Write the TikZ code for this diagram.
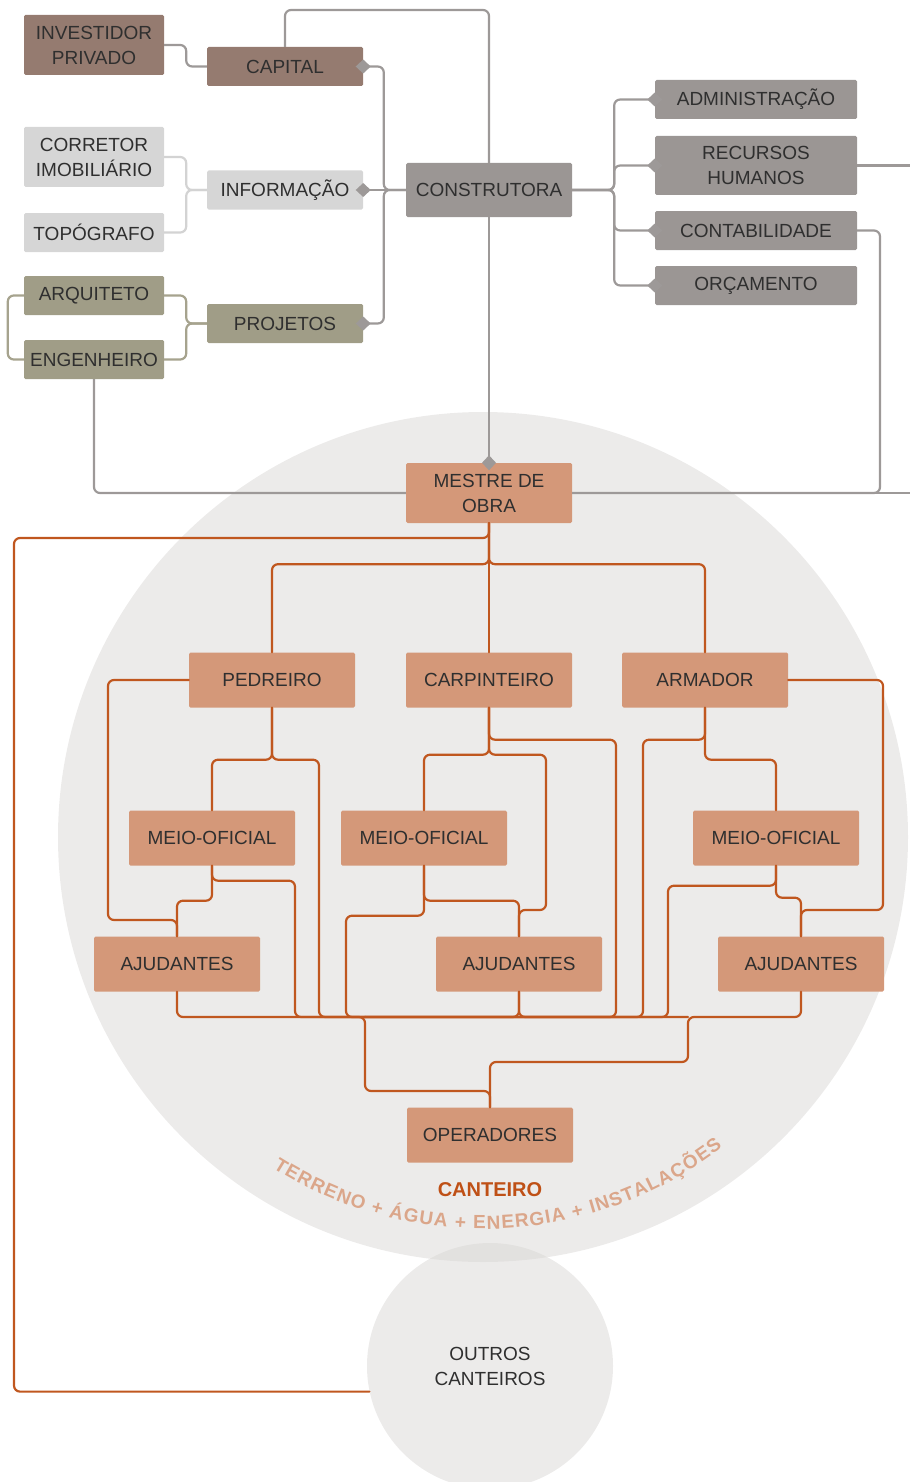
\documentclass[tikz,border=0pt]{standalone}
\usepackage{fontspec}
\setmainfont{Liberation Sans}
\usetikzlibrary{arrows.meta,decorations.text}

\definecolor{txtc}{HTML}{2F2F2F}
\definecolor{capfill}{HTML}{957B70}
\definecolor{infofill}{HTML}{D6D6D6}
\definecolor{projfill}{HTML}{A09D87}
\definecolor{firmfill}{HTML}{9B9694}
\definecolor{sitefill}{HTML}{D49879}
\definecolor{firmline}{HTML}{9D9998}
\definecolor{infoline}{HTML}{D3D3D3}
\definecolor{projline}{HTML}{A6A38E}
\definecolor{siteline}{HTML}{C0571F}
\definecolor{sitebg}{HTML}{D9D7D5}
\definecolor{arctext}{HTML}{DBA68A}
\definecolor{sitelabel}{HTML}{BF5016}

\tikzset{
  box/.style={rectangle, rounded corners=1.5pt, inner sep=0pt, align=center,
    text=txtc, font=\fontsize{19}{25}\selectfont},
  capbox/.style={box, fill=capfill},
  infobox/.style={box, fill=infofill},
  projbox/.style={box, fill=projfill},
  firmbox/.style={box, fill=firmfill},
  sitebox/.style={box, fill=sitefill, minimum width=166, minimum height=55},
  gline/.style={draw=firmline, line width=2.2pt, rounded corners=6pt},
  iline/.style={draw=infoline, line width=2.2pt, rounded corners=6pt},
  pline/.style={draw=projline, line width=2.2pt, rounded corners=6pt},
  oline/.style={draw=siteline, line width=2.2pt, rounded corners=6pt, line cap=round},
  dtip/.style={-{Diamond[width=14pt,length=15pt]}, shorten >=-7.5pt}
}

\begin{document}
\begin{tikzpicture}[x=1pt,y=-1pt]
\useasboundingbox (0,0) rectangle (910,1482);
\clip (0,0) rectangle (910,1482);

% canteiro
\fill[sitebg, fill opacity=.5] (483,837) circle[radius=425];
\node[circle, fill=sitebg, fill opacity=.5, text opacity=1, minimum size=246,
  inner sep=0pt, align=center, text=txtc, font=\fontsize{19}{25}\selectfont]
  (outros) at (490,1366) {OUTROS\\CANTEIROS};

% financiamento, informacao, projetos
\node[capbox, minimum width=140, minimum height=60] (invest) at (94,45) {INVESTIDOR\\PRIVADO};
\node[capbox, minimum width=156, minimum height=39] (capital) at (285,66.5) {CAPITAL};
\node[infobox, minimum width=140, minimum height=60] (corretor) at (94,157) {CORRETOR\\IMOBILIÁRIO};
\node[infobox, minimum width=140, minimum height=39] (topo) at (94,232.5) {TOPÓGRAFO};
\node[infobox, minimum width=156, minimum height=39] (info) at (285,190) {INFORMAÇÃO};
\node[projbox, minimum width=140, minimum height=39] (arq) at (94,295.5) {ARQUITETO};
\node[projbox, minimum width=140, minimum height=39] (eng) at (94,359.5) {ENGENHEIRO};
\node[projbox, minimum width=156, minimum height=39] (proj) at (285,323.5) {PROJETOS};

% construtora
\node[firmbox, minimum width=166, minimum height=54] (constr) at (489,190) {CONSTRUTORA};
\node[firmbox, minimum width=202, minimum height=39] (admin) at (756,99.5) {ADMINISTRAÇÃO};
\node[firmbox, minimum width=202, minimum height=59] (rh) at (756,165.5) {RECURSOS\\HUMANOS};
\node[firmbox, minimum width=202, minimum height=39] (contab) at (756,230.5) {CONTABILIDADE};
\node[firmbox, minimum width=202, minimum height=39] (orc) at (756,285.5) {ORÇAMENTO};

% obra
\node[sitebox, minimum height=60] (mestre) at (489,493) {MESTRE DE\\OBRA};
\node[sitebox] (pedreiro) at (272,680) {PEDREIRO};
\node[sitebox] (carp) at (489,680) {CARPINTEIRO};
\node[sitebox] (armador) at (705,680) {ARMADOR};
\node[sitebox] (meio1) at (212,838) {MEIO-OFICIAL};
\node[sitebox] (meio2) at (424,838) {MEIO-OFICIAL};
\node[sitebox] (meio3) at (776,838) {MEIO-OFICIAL};
\node[sitebox] (aj1) at (177,964) {AJUDANTES};
\node[sitebox] (aj2) at (519,964) {AJUDANTES};
\node[sitebox] (aj3) at (801,964) {AJUDANTES};
\node[sitebox] (oper) at (490,1135) {OPERADORES};

\node[font=\fontsize{20}{20}\selectfont\bfseries, text=sitelabel] (canteiro) at (490,1190) {CANTEIRO};
\path[decorate, decoration={text along path, text color=arctext, text align={fit to path},
  text={|\fontsize{19}{19}\selectfont\bfseries|TERRENO + ÁGUA + ENERGIA + INSTALAÇÕES}}]
  (273,1168) .. controls (412.1,1256.3) and (591.6,1248.1) .. (722.2,1147.6);

\coordinate (exitH) at (910,165.5);
\coordinate (exitM) at (910,493);
\coordinate (fa) at (365,1017);
\coordinate (fa2) at (365,1091);
\coordinate (fb) at (688,1017);
\coordinate (fb2) at (688,1062);

% ligacoes cinza
\draw[gline] (invest.east) -- ++(22,0) |- (capital.west);
\draw[iline] (corretor.east) -- ++(22,0) |- (info.west);
\draw[iline] (topo.east) -- ++(22,0) |- (info.west);
\draw[pline] (arq.east) -- ++(22,0) |- (proj.west);
\draw[pline] (eng.east) -- ++(22,0) |- (proj.west);
\draw[pline] (arq.west) -- ++(-16,0) |- (eng.west);
\draw[gline, dtip] (constr.west) -- ++(-22,0) |- (capital.east);
\draw[gline, dtip] (constr.west) -- (info.east);
\draw[gline, dtip] (constr.west) -- ++(-22,0) |- (proj.east);
\draw[gline] (capital.north) |- (489,10) -- (constr.north);
\draw[gline, dtip] (constr.south) -- (mestre.north);
\draw[gline, dtip] (constr.east) -- ++(42,0) |- (admin.west);
\draw[gline, dtip] (constr.east) -- ++(42,0) |- (rh.west);
\draw[gline, dtip] (constr.east) -- ++(42,0) |- (contab.west);
\draw[gline, dtip] (constr.east) -- ++(42,0) |- (orc.west);
\draw[gline] (rh.east) -- (exitH);
\draw[gline] (contab.east) -| (880,493) -- (mestre.east);
\draw[gline] (mestre.east) -- (exitM);
\draw[gline] (eng.south) |- (mestre.west);

% ligacoes da obra
\draw[oline] (mestre.south) |- (14,538) |- (outros.192);
\draw[oline] (mestre.south) -- ++(0,41) -| (pedreiro.north);
\draw[oline] (mestre.south) -- (carp.north);
\draw[oline] (mestre.south) -- ++(0,41) -| (armador.north);

\draw[oline] (pedreiro.west) -| (108,920) -| (aj1.north);
\draw[oline] (pedreiro.south) -- ++(0,52) -| (meio1.north);
\draw[oline] (pedreiro.south) -- ++(0,52) -| (319,1017) -- (fa);
\draw[oline] (meio1.south) -- ++(0,35) -| (aj1.north);
\draw[oline] (meio1.south) -- ++(0,15) -| (295,1017) -- (fa);
\draw[oline] (aj1.south) |- (fa) -- (fa2) -| (oper.north);

\draw[oline] (carp.south) -- ++(0,47) -| (meio2.north);
\draw[oline] (carp.south) -- ++(0,47) -| (546,910) -| (aj2.north);
\draw[oline] (carp.south) -- ++(0,32) -| (616,1017) -- (fa);
\draw[oline] (meio2.south) -- ++(0,35) -| (aj2.north);
\draw[oline] (meio2.south) -- ++(0,50) -| (346,1017) -- (fa);
\draw[oline] (aj2.south) |- (fa);
\draw[oline] (aj2.south) |- (fb);

\draw[oline] (armador.east) -| (883,910) -| (aj3.north);
\draw[oline] (armador.south) -- ++(0,52) -| (meio3.north);
\draw[oline] (armador.south) -- ++(0,32) -| (643,1017) -- (fa);
\draw[oline] (meio3.south) -- ++(0,32) -| (aj3.north);
\draw[oline] (meio3.south) -- ++(0,20) -| (668,1017) -- (fa);
\draw[oline] (aj3.south) |- (fb) -- (fb2) -| (oper.north);
\end{tikzpicture}
\end{document}
